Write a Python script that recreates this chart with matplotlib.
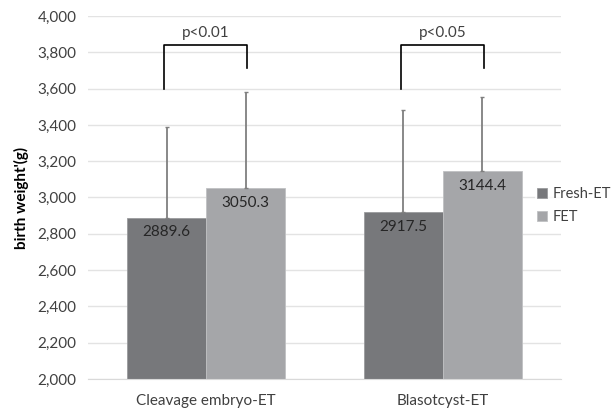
import numpy as np
import matplotlib
matplotlib.use("Agg")
import matplotlib.pyplot as plt
from matplotlib.ticker import FuncFormatter

# data
groups = ["Cleavage embryo-ET", "Blasotcyst-ET"]
fresh = [2889.6, 2917.5]
fet = [3050.3, 3144.4]
fresh_sd = [497, 565]
fet_sd = [533, 411]
p_text = ["p<0.01", "p<0.05"]

plt.rcParams["font.family"] = ["Lato", "DejaVu Sans"]
txt = "#404040"

fig = plt.figure(figsize=(6.14, 4.11), dpi=100)
ax = fig.add_axes([0.143, 0.078, 0.771, 0.883])

x = np.arange(len(groups))
w = 1 / 3
c_fresh = "#77787b"
c_fet = "#a5a6a9"

b1 = ax.bar(x - w / 2, fresh, w, color=c_fresh, edgecolor="#9a9b9e", linewidth=0.6,
            label="Fresh-ET", zorder=2)
b2 = ax.bar(x + w / 2, fet, w, color=c_fet, edgecolor="#c0c1c3", linewidth=0.6,
            label="FET", zorder=2)

# upper error bars only
ax.errorbar(x - w / 2, fresh, yerr=[np.zeros(2), fresh_sd], fmt="none",
            ecolor="#7f7f7f", elinewidth=1.3, capsize=1.5, zorder=3)
ax.errorbar(x + w / 2, fet, yerr=[np.zeros(2), fet_sd], fmt="none",
            ecolor="#7f7f7f", elinewidth=1.3, capsize=1.5, zorder=3)

for bars in (b1, b2):
    for b in bars:
        h = b.get_height()
        ax.text(b.get_x() + b.get_width() / 2, h - 80, f"{h:.1f}",
                ha="center", va="center", fontsize=11, color="#262626", zorder=4)

# significance brackets
for i in range(len(groups)):
    xl = x[i] - 0.177
    xr = x[i] + 0.173
    ax.plot([xl, xl, xr, xr], [3598, 3840, 3840, 3712], color="black", lw=1.2,
            zorder=4, clip_on=False)
    ax.text(x[i], 3905, p_text[i], ha="center", va="center", fontsize=11, color=txt)

ax.set_ylim(2000, 4000)
ax.set_xlim(-0.5, 1.5)
ax.set_yticks(np.arange(2000, 4001, 200))
ax.yaxis.set_major_formatter(FuncFormatter(lambda v, p: f"{int(v):,}"))
ax.set_xticks(x)
ax.set_xticklabels(groups)
ax.grid(axis="y", color="#e3e3e3", lw=1, zorder=0)
for s in ["top", "right", "left"]:
    ax.spines[s].set_visible(False)
ax.spines["bottom"].set_color("#d9d9d9")
ax.tick_params(length=0, labelsize=11, labelcolor=txt, pad=8)
ax.tick_params(axis="x", pad=11)
ax.set_ylabel("birth weight'(g)", fontsize=11, fontweight="bold", color="black", labelpad=6)

leg = ax.legend(loc="center left", frameon=True, fontsize=10.5, handlelength=0.7,
                handleheight=0.7, handletextpad=0.35, labelspacing=0.6,
                borderpad=0.1, borderaxespad=0)
leg.get_frame().set_edgecolor("none")
leg.get_frame().set_facecolor("white")
leg.set_zorder(5)
leg.set_bbox_to_anchor((0.872, 0.5), transform=fig.transFigure)
for t in leg.get_texts():
    t.set_color(txt)

fig.savefig("out.png", dpi=100)
